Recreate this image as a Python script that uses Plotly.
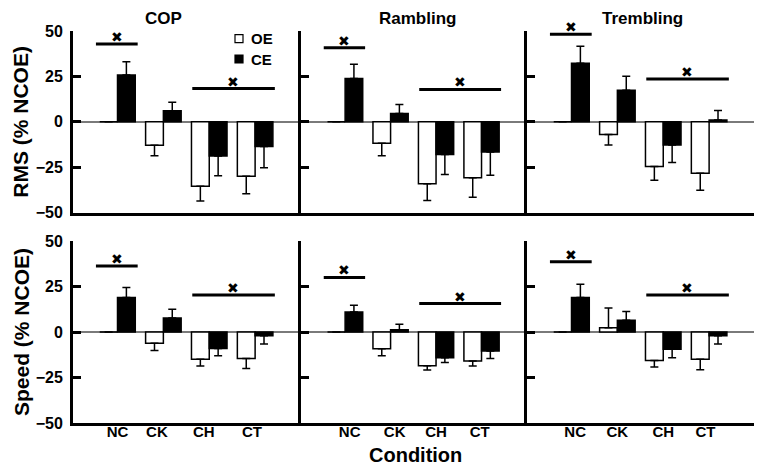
import plotly.graph_objects as go

categories = ["NC", "CK", "CH", "CT"]
panel_titles = ["COP", "Rambling", "Trembling"]
row_titles = ["RMS (% NCOE)", "Speed (% NCOE)"]
legend_names = ["OE", "CE"]
y_ticks = [-50, -25, 0, 25, 50]

# RMS row
rms_cop_oe = [0, -13.0, -35.5, -30.0]
rms_cop_oe_err = [0, 5.7, 8.1, 9.7]
rms_cop_ce = [25.8, 6.0, -18.9, -13.7]
rms_cop_ce_err = [7.2, 4.8, 10.8, 11.7]

rms_ram_oe = [0, -11.9, -34.2, -30.9]
rms_ram_oe_err = [0, 6.8, 9.2, 10.7]
rms_ram_ce = [23.8, 4.6, -18.1, -16.7]
rms_ram_ce_err = [7.9, 4.9, 11.0, 12.8]

rms_tre_oe = [0, -7.0, -24.7, -28.4]
rms_tre_oe_err = [0, 5.8, 7.5, 9.3]
rms_tre_ce = [32.2, 17.4, -12.8, 0.9]
rms_tre_ce_err = [9.4, 7.7, 9.7, 5.3]

# Speed row
spd_cop_oe = [0, -6.2, -15.0, -14.5]
spd_cop_oe_err = [0, 3.9, 3.7, 5.5]
spd_cop_ce = [18.9, 7.7, -9.0, -2.0]
spd_cop_ce_err = [5.5, 4.8, 4.0, 4.6]

spd_ram_oe = [0, -9.2, -18.5, -15.9]
spd_ram_oe_err = [0, 3.8, 2.4, 2.8]
spd_ram_ce = [11.0, 1.3, -14.1, -10.4]
spd_ram_ce_err = [3.7, 2.9, 2.6, 4.1]

spd_tre_oe = [0, 2.4, -15.6, -15.0]
spd_tre_oe_err = [0, 10.8, 3.6, 5.7]
spd_tre_ce = [18.9, 6.4, -9.5, -2.0]
spd_tre_ce_err = [7.3, 4.8, 4.6, 4.6]

# significance bars: level of NC bar / CH-CT bar, per panel (RMS then Speed)
sig_nc_level = [42.9, 40.8, 48.2, 36.3, 30.0, 38.6]
sig_chct_level = [18.3, 17.8, 23.6, 20.3, 15.6, 20.3]

panels = [
    (rms_cop_oe, rms_cop_oe_err, rms_cop_ce, rms_cop_ce_err),
    (rms_ram_oe, rms_ram_oe_err, rms_ram_ce, rms_ram_ce_err),
    (rms_tre_oe, rms_tre_oe_err, rms_tre_ce, rms_tre_ce_err),
    (spd_cop_oe, spd_cop_oe_err, spd_cop_ce, spd_cop_ce_err),
    (spd_ram_oe, spd_ram_oe_err, spd_ram_ce, spd_ram_ce_err),
    (spd_tre_oe, spd_tre_oe_err, spd_tre_ce, spd_tre_ce_err),
]

# ---------------- layout geometry (page pixels) ----------------
PAGE_W, PAGE_H = 762, 467
OFF = 8                      # default body margin of the html page
FW, FH = PAGE_W - OFF, PAGE_H - OFF

def fx(px):
    return (px - OFF) / FW

def fy(py):
    return 1 - (py - OFF) / FH

x_edges = [(73, 301), (301, 527), (527, 755)]
y_edges = [(31, 212.5), (241, 423)]
tick_shift = [[0, -0.14, -0.12, -0.07], [0.1, 0.09, 0, -0.04], [0.08, 0, 0, -0.08]]
FONT = "Liberation Sans"

xpos = list(range(len(categories)))

fig = go.Figure()
annotations = []

def err_split(vals, errs):
    plus = [e if v >= 0 else 0 for v, e in zip(vals, errs)]
    minus = [e if v < 0 else 0 for v, e in zip(vals, errs)]
    return plus, minus

for i, (oe, oe_err, ce, ce_err) in enumerate(panels):
    n = i + 1
    xa = "x" if n == 1 else f"x{n}"
    ya = "y" if n == 1 else f"y{n}"
    for name, vals, errs, fill in [(legend_names[0], oe, oe_err, "white"),
                                   (legend_names[1], ce, ce_err, "black")]:
        p, m = err_split(vals, errs)
        fig.add_trace(go.Bar(
            x=xpos, y=vals, name=name, offsetgroup=name, showlegend=False,
            marker=dict(color=fill, line=dict(color="black", width=1.5)),
            error_y=dict(type="data", symmetric=False, array=p, arrayminus=m,
                         color="black", thickness=1.5, width=4),
            xaxis=xa, yaxis=ya))
    # significance lines + markers
    for (x0, x1, xm), lvl in [((-0.47, 0.44, -0.02), sig_nc_level[i]),
                              ((1.63, 3.43, 2.52), sig_chct_level[i])]:
        fig.add_trace(go.Scatter(
            x=[x0, x1], y=[lvl, lvl], mode="lines",
            line=dict(color="black", width=3), showlegend=False,
            hoverinfo="skip", xaxis=xa, yaxis=ya, cliponaxis=False))
        annotations.append(dict(
            text="✖", x=xm, y=lvl, xref=xa, yref=ya, showarrow=False,
            xanchor="center", yanchor="middle", yshift=7,
            font=dict(family="DejaVu Sans", size=14, color="black")))

    r, c = divmod(i, 3)
    xd = [fx(x_edges[c][0]), min(1.0, fx(x_edges[c][1]))]
    yd = [fy(y_edges[r][1]), fy(y_edges[r][0])]
    xkey = "xaxis" if n == 1 else f"xaxis{n}"
    ykey = "yaxis" if n == 1 else f"yaxis{n}"
    fig.layout[xkey] = dict(
        domain=xd, anchor=ya, range=[-0.97, 4.0], showgrid=False,
        zeroline=False, showline=True, linecolor="black", linewidth=3,
        tickmode="array",
        tickvals=[v + s for v, s in zip(xpos, tick_shift[c])],
        ticktext=categories, showticklabels=(r == 1), ticks="",
        ticklabelstandoff=-7,
        tickfont=dict(family=FONT, size=15, color="black", weight="bold"),
        automargin=False, fixedrange=True)
    fig.layout[ykey] = dict(
        domain=yd, anchor=xa, range=[-50, 50], showgrid=False,
        zeroline=True, zerolinecolor="#7a7a7a", zerolinewidth=1.5,
        showline=True, linecolor="black", linewidth=3,
        tickmode="array", tickvals=y_ticks, ticks="inside", ticklen=8,
        tickwidth=3, tickcolor="black", showticklabels=(c == 0),
        ticklabelstandoff=4,
        tickfont=dict(family=FONT, size=16, color="black", weight="bold"),
        automargin=False, fixedrange=True)

def note(text, px, py, size, angle=0, xanchor="center"):
    return dict(text=text, x=fx(px), y=fy(py), xref="paper", yref="paper",
                showarrow=False, xanchor=xanchor, yanchor="middle",
                textangle=angle,
                font=dict(family=FONT, size=size, color="black",
                          weight="bold"))

for t, xc in zip(panel_titles, [163, 417, 642.5]):
    annotations.append(note(t, xc, 18.5, 17))
for t, (y0, y1) in zip(row_titles, y_edges):
    annotations.append(note(t, 21, (y0 + y1) / 2, 21, angle=-90))
annotations.append(note("Condition", 415, 455, 20))

# legend (drawn manually to match the compact original)
shapes = []
for k, (name, fill) in enumerate(zip(legend_names, ["white", "black"])):
    yc = 38.7 + 20.3 * k
    shapes.append(dict(type="rect", xref="paper", yref="paper",
                       x0=fx(235), x1=fx(243), y0=fy(yc + 4), y1=fy(yc - 4),
                       fillcolor=fill, line=dict(color="black", width=1.2)))
    annotations.append(note(name, 249, yc, 15, xanchor="left"))

fig.update_layout(
    width=FW, height=FH,
    margin=dict(l=0, r=0, t=0, b=0, pad=0, autoexpand=False),
    paper_bgcolor="white", plot_bgcolor="white",
    barmode="group", bargap=0.225, bargroupgap=0,
    annotations=annotations, shapes=shapes, showlegend=False,
)

fig.write_html("out.html")
